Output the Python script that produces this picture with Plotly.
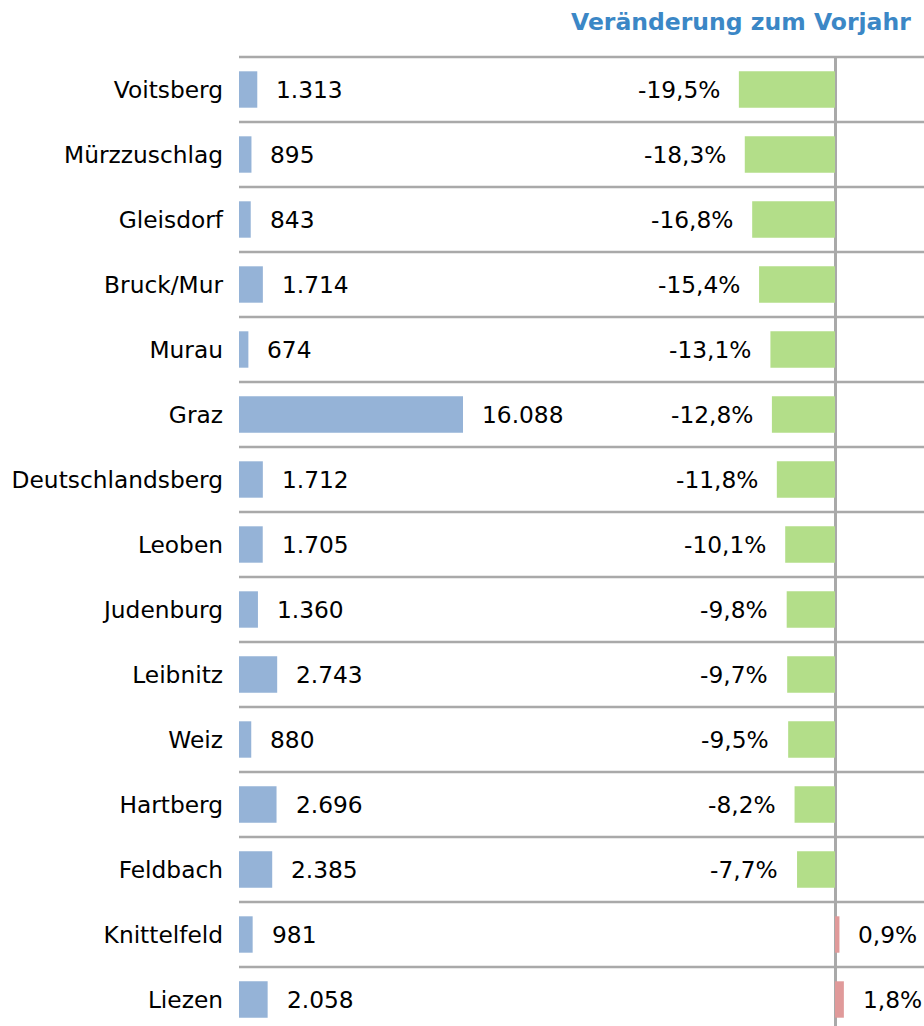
import plotly.graph_objects as go

# ---- data ----
regions = ["Voitsberg", "Mürzzuschlag", "Gleisdorf", "Bruck/Mur", "Murau", "Graz",
           "Deutschlandsberg", "Leoben", "Judenburg", "Leibnitz", "Weiz", "Hartberg",
           "Feldbach", "Knittelfeld", "Liezen"]
counts = [1313, 895, 843, 1714, 674, 16088, 1712, 1705, 1360, 2743, 880, 2696, 2385, 981, 2058]
change_pct = [-19.5, -18.3, -16.8, -15.4, -13.1, -12.8, -11.8, -10.1, -9.8, -9.7, -9.5, -8.2, -7.7, 0.9, 1.8]
title_text = "Veränderung zum Vorjahr"

# ---- layout constants ----
W, H = 924, 1026
ML, MT = 239, 57
ROW_PX = 65
plot_w = W - ML
plot_h = H - MT
FONT = "DejaVu Sans"
FS = 23.3
BLUE = "#95b3d7"
GREEN = "#b3de89"
RED = "#e09a9a"
GRID = "#a9a9a9"

left_px_per_unit = 224 / 16088
pct_px = 4.93
zero_px = 835 - ML

idx = list(range(len(regions)))
fmt_count = lambda v: f"{v:,}".replace(",", ".")
fmt_pct = lambda p: f"{p:.1f}%".replace(".", ",")

fig = go.Figure()
fig.add_trace(go.Bar(
    y=idx, x=counts, orientation="h", width=0.56,
    marker=dict(color=BLUE, line=dict(width=0)),
    xaxis="x", yaxis="y", hoverinfo="skip", showlegend=False))
fig.add_trace(go.Bar(
    y=idx, x=change_pct, orientation="h", width=0.56,
    marker=dict(color=[GREEN if p < 0 else RED for p in change_pct], line=dict(width=0)),
    xaxis="x2", yaxis="y", hoverinfo="skip", showlegend=False))

annotations = []
for i, (v, p) in enumerate(zip(counts, change_pct)):
    annotations.append(dict(x=v, y=i, xref="x", yref="y", text=fmt_count(v),
                            showarrow=False, xanchor="left", yanchor="middle", xshift=17,
                            font=dict(family=FONT, size=FS, color="black")))
    annotations.append(dict(x=p, y=i, xref="x2", yref="y", text=fmt_pct(p),
                            showarrow=False, xanchor="right" if p < 0 else "left",
                            yanchor="middle", xshift=-17 if p < 0 else 17,
                            font=dict(family=FONT, size=FS, color="black")))
annotations.append(dict(x=1, y=1, xref="paper", yref="paper", text=f"<b>{title_text}</b>",
                        showarrow=False, xanchor="right", yanchor="middle",
                        xshift=-11, yshift=MT - 22,
                        font=dict(family=FONT, size=23.5, color="#3b87c6")))

shapes = [dict(type="line", xref="paper", yref="paper", x0=0, x1=1, y0=1, y1=1,
               line=dict(color=GRID, width=2.5), layer="below")]
for b in range(1, len(regions) + 1):
    shapes.append(dict(type="line", xref="paper", yref="y", x0=0, x1=1, y0=b - 0.5, y1=b - 0.5,
                       line=dict(color=GRID, width=2.5), layer="below"))

fig.update_layout(
    width=W, height=H,
    margin=dict(l=ML, r=0, t=MT, b=0, pad=0),
    paper_bgcolor="white", plot_bgcolor="white",
    barmode="overlay",
    font=dict(family=FONT, size=FS, color="black"),
    xaxis=dict(range=[0, plot_w / left_px_per_unit], visible=False, showgrid=False,
               zeroline=False, fixedrange=True),
    xaxis2=dict(range=[-zero_px / pct_px, (plot_w - zero_px) / pct_px], overlaying="x",
                showgrid=False, showticklabels=False, ticks="", zeroline=True,
                zerolinecolor=GRID, zerolinewidth=2.5, fixedrange=True),
    yaxis=dict(range=[-0.5 + plot_h / ROW_PX, -0.5], tickvals=idx, ticktext=regions,
               showgrid=False, zeroline=False, ticks="", ticklabelstandoff=15,
               tickfont=dict(family=FONT, size=FS, color="black"), fixedrange=True),
    annotations=annotations, shapes=shapes,
)

fig.write_html("out.html", config={"displayModeBar": False},
               post_script="document.body.style.margin='0';document.body.style.overflow='hidden';")
